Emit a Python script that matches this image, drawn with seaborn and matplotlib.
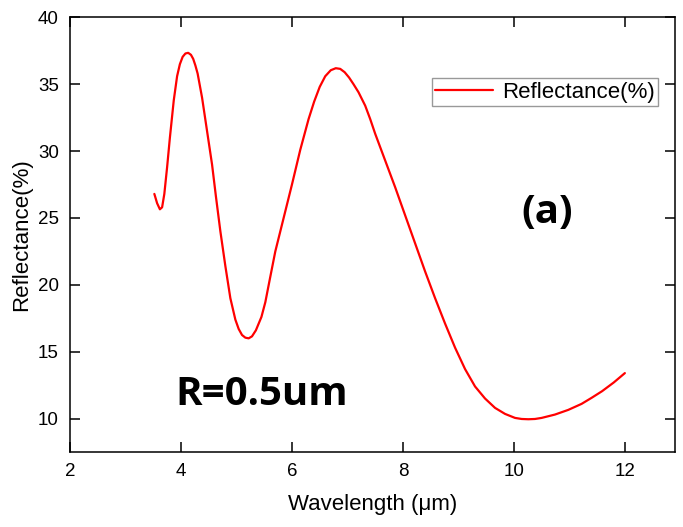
import numpy as np
import pandas as pd
import seaborn as sns
from matplotlib import pyplot as plt

# values
wavelength = [3.52, 3.57, 3.62, 3.66, 3.70, 3.75, 3.80, 3.87, 3.93, 3.98,
              4.03, 4.08, 4.13, 4.18, 4.22, 4.26, 4.30, 4.38, 4.47, 4.56,
              4.63, 4.71, 4.80, 4.89, 4.98, 5.04, 5.10, 5.16, 5.22, 5.28,
              5.35, 5.45, 5.52, 5.60, 5.70, 5.85, 6.00, 6.15, 6.30, 6.40,
              6.50, 6.60, 6.70, 6.79, 6.87, 6.95, 7.03, 7.11, 7.20, 7.32,
              7.41, 7.50, 7.68, 7.86, 8.04, 8.22, 8.40, 8.58, 8.76, 8.94,
              9.12, 9.30, 9.48, 9.66, 9.84, 10.02, 10.14, 10.26, 10.38, 10.50,
              10.74, 10.98, 11.22, 11.40, 11.59, 11.80, 12.00]
reflectance = [26.8, 26.1, 25.65, 25.8, 26.8, 28.8, 31.0, 33.8, 35.6, 36.5,
               37.05, 37.3, 37.35, 37.2, 36.9, 36.4, 35.8, 34.0, 31.5, 29.0,
               26.6, 24.0, 21.4, 19.0, 17.4, 16.7, 16.25, 16.05, 16.0, 16.15,
               16.6, 17.6, 18.7, 20.4, 22.5, 25.0, 27.5, 30.1, 32.4, 33.7,
               34.8, 35.6, 36.05, 36.2, 36.15, 35.9, 35.5, 35.0, 34.4, 33.4,
               32.4, 31.3, 29.3, 27.3, 25.2, 23.1, 21.0, 19.0, 17.1, 15.3,
               13.7, 12.4, 11.5, 10.8, 10.35, 10.05, 9.97, 9.95, 9.97, 10.05,
               10.3, 10.65, 11.1, 11.55, 12.05, 12.7, 13.4]
x_ticks = [2, 4, 6, 8, 10, 12]
y_ticks = [10, 15, 20, 25, 30, 35, 40]

df = pd.DataFrame({'Wavelength': wavelength, 'Reflectance': reflectance})

sns.set_style('ticks')
plt.rcParams['font.family'] = ['Liberation Sans', 'DejaVu Sans']
plt.rcParams['text.color'] = 'black'
plt.rcParams['axes.labelcolor'] = 'black'

fig = plt.figure(figsize=(6.83, 5.27), dpi=100)
ax = fig.add_axes([0.1025, 0.1423, 0.8855, 0.8247])

sns.lineplot(data=df, x='Wavelength', y='Reflectance', color='red',
             linewidth=1.6, label='Reflectance(%)', ax=ax)

ax.set_xlim(2, 12.9)
ax.set_ylim(7.5, 40)
ax.set_xticks(x_ticks)
ax.set_yticks(y_ticks)
ax.tick_params(direction='in', length=7, width=1.1, labelsize=13.5, pad=8,
               top=True, right=True, colors='black')
for s in ax.spines.values():
    s.set_linewidth(1.1)
    s.set_color('black')

ax.set_xlabel('Wavelength (\u03bcm)', fontsize=16, labelpad=10)
ax.set_ylabel('Reflectance(%)', fontsize=16, labelpad=4)

leg = ax.legend(loc='upper right', bbox_to_anchor=(0.972, 0.86),
                borderaxespad=0, fancybox=False, fontsize=16,
                handlelength=2.6, borderpad=0.15, handletextpad=0.4)
leg.get_frame().set_edgecolor('gray')
leg.get_frame().set_linewidth(1.0)
for t in leg.get_texts():
    t.set_color('black')

ax.text(5.46, 11.8, 'R=0.5um', fontsize=29, fontweight='bold',
        family='Open Sans', color='black', ha='center', va='center')
ax.text(10.6, 25.4, '(a)', fontsize=29, fontweight='bold',
        family='Open Sans', color='black', ha='center', va='center')

fig.savefig('out.png', dpi=100)
